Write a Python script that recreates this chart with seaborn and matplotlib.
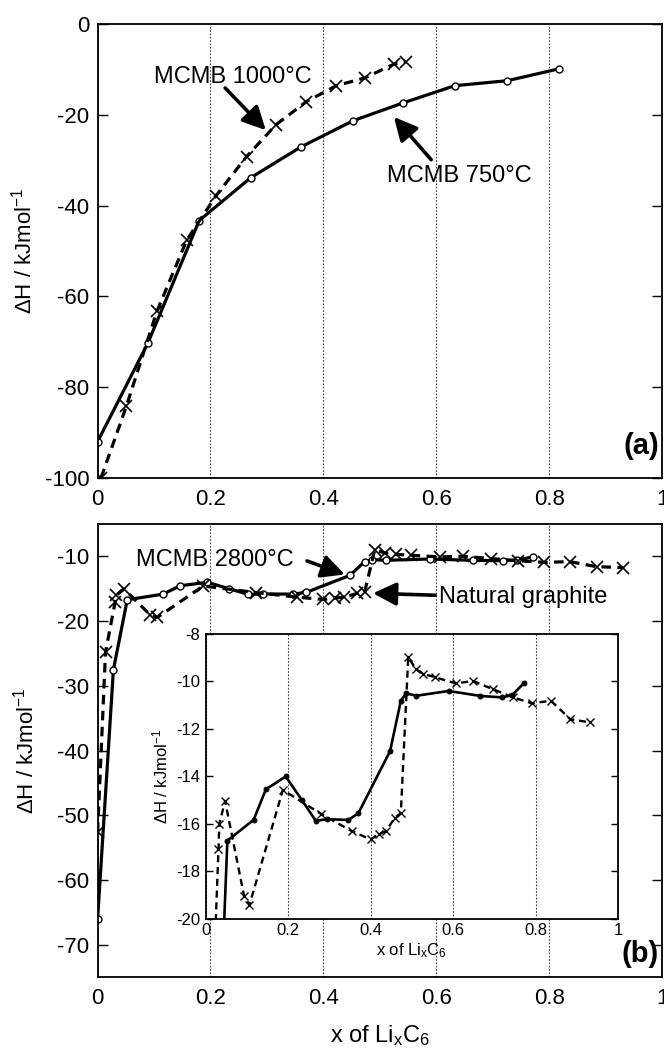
import seaborn as sns
import matplotlib
matplotlib.use("Agg")
import matplotlib.pyplot as plt

# panel (a): MCMB heat-treated at 750 and 1000 C
a750_x = [0, 0.089, 0.18, 0.271, 0.36, 0.453, 0.541, 0.633, 0.726, 0.817]
a750_y = [-92, -70.3, -43.3, -33.9, -27.1, -21.3, -17.4, -13.6, -12.5, -9.9]
a1000_x = [0.006, 0.051, 0.105, 0.158, 0.21, 0.264, 0.316, 0.37, 0.423, 0.473, 0.526, 0.547]
a1000_y = [-100, -84.2, -63.3, -47.6, -37.8, -29.2, -22.2, -17.1, -13.6, -11.9, -8.8, -8.3]

# panel (b): MCMB 2800 C and natural graphite
b2800_x = [0, 0.028, 0.0525, 0.116, 0.146, 0.194, 0.233, 0.267, 0.293, 0.346, 0.37,
           0.447, 0.473, 0.486, 0.511, 0.589, 0.666, 0.719, 0.743, 0.771]
b2800_y = [-66, -27.5, -16.7, -15.83, -14.54, -14.0, -14.99, -15.87, -15.8, -15.83, -15.55,
           -12.93, -10.82, -10.5, -10.6, -10.4, -10.61, -10.67, -10.57, -10.08]
bnat_x = [0, 0.014, 0.031, 0.033, 0.047, 0.093, 0.106, 0.187, 0.28, 0.354, 0.4, 0.421,
          0.437, 0.459, 0.473, 0.491, 0.51, 0.528, 0.556, 0.606, 0.648, 0.697, 0.745,
          0.791, 0.837, 0.884, 0.931]
bnat_y = [-52.6, -24.8, -17.07, -16.0, -15.03, -19.03, -19.41, -14.57, -15.58, -16.3, -16.65,
          -16.42, -16.3, -15.73, -15.55, -8.98, -9.49, -9.68, -9.82, -10.08, -9.98, -10.33,
          -10.67, -10.92, -10.81, -11.59, -11.72]

x_ticks = [0, 0.2, 0.4, 0.6, 0.8, 1]
x_tick_labels = ["0", "0.2", "0.4", "0.6", "0.8", "1"]
ylabel = r"ΔH / kJmol$^{\mathrm{-1}}$"
xlabel = r"x of Li$_{\mathrm{x}}$C$_{\mathrm{6}}$"

sns.set_style("ticks")
plt.rcParams["font.family"] = ["Liberation Sans", "DejaVu Sans"]
plt.rcParams["mathtext.fontset"] = "custom"
plt.rcParams["mathtext.rm"] = "Liberation Sans"
plt.rcParams["mathtext.it"] = "Liberation Sans:italic"
plt.rcParams["mathtext.bf"] = "Liberation Sans:bold"
plt.rcParams["axes.unicode_minus"] = False
for key in ["text.color", "axes.labelcolor", "xtick.color", "ytick.color",
            "xtick.labelcolor", "ytick.labelcolor"]:
    plt.rcParams[key] = "black"

fig = plt.figure(figsize=(6.64, 10.5), dpi=100)
ax_a = fig.add_axes([0.147, 0.5448, 0.85, 0.4324])
ax_b = fig.add_axes([0.147, 0.0695, 0.85, 0.4314])
ax_in = fig.add_axes([0.3098, 0.1248, 0.6212, 0.2714])

solid = dict(color="k", lw=2.3, marker="o", ms=5, mfc="white", mec="k", mew=1.0,
             errorbar=None, sort=False)
dashed = dict(color="k", lw=2.3, linestyle=(0, (3, 2)), marker="x", ms=8, mec="k", mew=1.2,
              errorbar=None, sort=False)
arrow = dict(arrowstyle="-|>,head_length=0.7,head_width=0.35", lw=2.6, color="k",
             shrinkA=0, shrinkB=0, mutation_scale=20)


def style_axes(ax, fs, tick_len):
    ax.set_xlim(0, 1)
    ax.set_xticks(x_ticks)
    ax.set_xticklabels(x_tick_labels)
    ax.xaxis.grid(True, ls=(0, (1.5, 1.5)), lw=0.8, color="0.25")
    ax.yaxis.grid(False)
    ax.tick_params(axis="both", direction="in", labelsize=fs, length=tick_len, width=1.0,
                   right=True, top=True, pad=6, colors="k")
    ax.tick_params(axis="x", length=0, pad=8)
    for s in ax.spines.values():
        s.set_linewidth(1.3)
        s.set_color("k")
        s.set_visible(True)


# ---- panel (a)
sns.lineplot(x=a750_x, y=a750_y, ax=ax_a, **solid)
sns.lineplot(x=a1000_x, y=a1000_y, ax=ax_a, **dashed)
style_axes(ax_a, 16, 7)
ax_a.set_ylim(-100, 0)
ax_a.set_yticks([-100, -80, -60, -40, -20, 0])
ax_a.set_ylabel(ylabel, fontsize=16)
ax_a.yaxis.set_label_coords(-0.108, 0.5)
ax_a.text(0.24, -11.6, "MCMB 1000°C", fontsize=17, ha="center", va="center")
ax_a.annotate("", xy=(0.298, -23.4), xytext=(0.226, -14.1), arrowprops=arrow)
ax_a.text(0.64, -33.6, "MCMB 750°C", fontsize=17, ha="center", va="center")
ax_a.annotate("", xy=(0.525, -20.5), xytext=(0.591, -29.9), arrowprops=arrow)
ax_a.text(0.995, -93, "(a)", fontsize=21, fontweight="bold", ha="right", va="center")

# ---- panel (b)
sns.lineplot(x=b2800_x, y=b2800_y, ax=ax_b, **solid)
sns.lineplot(x=bnat_x, y=bnat_y, ax=ax_b, **dashed)
style_axes(ax_b, 16, 7)
ax_b.set_ylim(-75, -5)
ax_b.set_yticks([-70, -60, -50, -40, -30, -20, -10])
ax_b.set_ylabel(ylabel, fontsize=16)
ax_b.yaxis.set_label_coords(-0.105, 0.5)
ax_b.set_xlabel(xlabel, fontsize=17, labelpad=10)
ax_b.text(0.068, -10.6, "MCMB 2800°C", fontsize=17, ha="left", va="center")
ax_b.annotate("", xy=(0.438, -12.8), xytext=(0.371, -10.7), arrowprops=arrow)
ax_b.text(0.605, -16.2, "Natural graphite", fontsize=17, ha="left", va="center")
ax_b.annotate("", xy=(0.488, -15.7), xytext=(0.598, -16.0), arrowprops=arrow)
ax_b.text(0.995, -71.5, "(b)", fontsize=21, fontweight="bold", ha="right", va="center")

# ---- inset
ax_in.set_facecolor("white")
sns.lineplot(x=b2800_x, y=b2800_y, ax=ax_in, color="k", lw=1.9, marker="o", ms=3.5,
             mfc="k", mec="k", errorbar=None, sort=False)
sns.lineplot(x=bnat_x, y=bnat_y, ax=ax_in, color="k", lw=1.7, linestyle=(0, (3, 2)),
             marker="x", ms=6, mec="k", mew=1.0, errorbar=None, sort=False)
style_axes(ax_in, 12, 5)
ax_in.set_ylim(-20, -8)
ax_in.set_yticks([-20, -18, -16, -14, -12, -10, -8])
ax_in.tick_params(axis="y", pad=4)
ax_in.tick_params(axis="x", pad=3)
ax_in.set_ylabel(ylabel, fontsize=12, labelpad=4)
ax_in.set_xlabel(xlabel, fontsize=12, labelpad=2)

fig.savefig("out.png", dpi=100)
